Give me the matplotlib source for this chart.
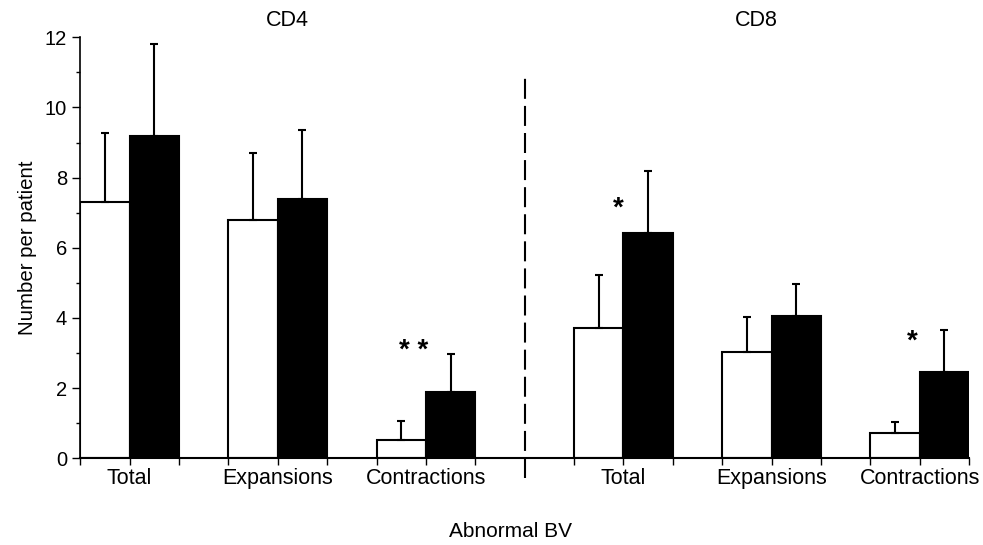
import matplotlib
matplotlib.use('Agg')
import matplotlib.pyplot as plt
import numpy as np

plt.rcParams['font.family'] = ['Liberation Sans', 'DejaVu Sans']

# Values (number per patient)
groups = ['Total', 'Expansions', 'Contractions', 'Total', 'Expansions', 'Contractions']
white_vals = [7.30, 6.79, 0.53, 3.72, 3.04, 0.71]
white_errs = [1.98, 1.90, 0.53, 1.50, 1.00, 0.33]
black_vals = [9.19, 7.40, 1.89, 6.43, 4.05, 2.47]
black_errs = [2.61, 1.95, 1.08, 1.77, 0.91, 1.18]
stars = ['', '', '* *', '*', '', '*']
panel_titles = ['CD4', 'CD8']

# left edge of each white bar (bar width = 1, step 3, extra gap between CD4 and CD8)
left_edges = np.array([0, 3, 6, 10, 13, 16])
split_x = 9

fig = plt.figure(figsize=(9.83, 5.45), dpi=100)
ax = fig.add_axes([0.0817, 0.159, 0.9041, 0.7726])

ax.bar(left_edges + 0.5, white_vals, width=1.0, color='white', edgecolor='black', linewidth=1.5)
ax.bar(left_edges + 1.5, black_vals, width=1.0, color='black', edgecolor='black', linewidth=1.5)

# one-sided error bars
ax.errorbar(left_edges + 0.5, white_vals, yerr=[np.zeros(6), white_errs], fmt='none',
            ecolor='black', elinewidth=1.5, capsize=3, capthick=1.5)
ax.errorbar(left_edges + 1.5, black_vals, yerr=[np.zeros(6), black_errs], fmt='none',
            ecolor='black', elinewidth=1.5, capsize=3, capthick=1.5)

# significance stars, placed relative to the black error bar top
star_dx = {'* *': 0.75, '*': 0.85}
for i, s in enumerate(stars):
    if not s:
        continue
    top = black_vals[i] + black_errs[i]
    if i == 2:
        y = top - 0.28
    elif i == 3:
        y = top - 1.45
    else:
        y = top - 0.7
    ax.text(left_edges[i] + star_dx[s] + (0.05 if i == 3 else 0), y, s,
            ha='center', va='bottom', fontsize=20, fontweight='bold')

# dashed divider between CD4 and CD8
ax.plot([split_x, split_x], [-0.55, 10.95], color='black', linestyle=(0, (9.6, 3.4)),
        linewidth=1.5, clip_on=False)

ax.set_xlim(0, 18)
ax.set_ylim(0, 12)
tick_pos = [x for x in range(19) if x != split_x]
ax.set_xticks(tick_pos)
ax.set_xticklabels([])
ax.tick_params(axis='x', direction='out', length=5, width=1)
for i, g in enumerate(groups):
    ax.text(left_edges[i] + 1, -0.28, g, ha='center', va='top', fontsize=15.5)

ax.set_yticks(np.arange(0, 13, 2))
ax.set_yticks(np.arange(1, 12, 2), minor=True)
ax.tick_params(axis='y', which='major', direction='out', length=6, width=1, labelsize=14.5)
ax.tick_params(axis='y', which='minor', direction='out', length=3, width=1)

ax.spines['top'].set_visible(False)
ax.spines['right'].set_visible(False)
ax.spines['left'].set_linewidth(1.2)
ax.spines['bottom'].set_linewidth(1.5)

ax.set_ylabel('Number per patient', fontsize=14.7, labelpad=6)
ax.text(4.2, 12.17, panel_titles[0], ha='center', va='bottom', fontsize=15.5)
ax.text(13.7, 12.17, panel_titles[1], ha='center', va='bottom', fontsize=15.5)
fig.text(0.519, 0.008, 'Abnormal BV', ha='center', va='bottom', fontsize=15)

plt.savefig('out.png', dpi=100)
